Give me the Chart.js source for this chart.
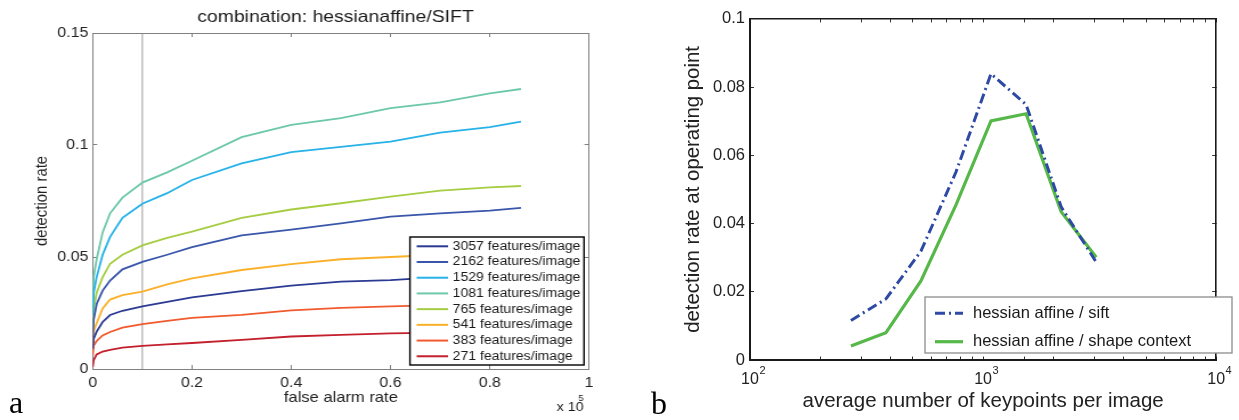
<!DOCTYPE html>
<html><head><meta charset="utf-8">
<script src="https://cdn.jsdelivr.net/npm/chart.js@4.4.1/dist/chart.umd.min.js"></script>
<style>
html,body{margin:0;padding:0;background:#fff;width:1239px;height:420px;overflow:hidden;}
#left{position:absolute;left:0;top:0;width:544px;height:420px;transform:scaleX(1.14);transform-origin:0 0;}
#right{position:absolute;left:640px;top:0;width:599px;height:420px;}
.lab{position:absolute;font-family:'Liberation Serif','Times New Roman',serif;font-size:32px;line-height:32px;color:#000;}
</style></head>
<body>
<div id="left"><canvas id="c1" width="544" height="420"></canvas></div>
<div id="right"><canvas id="c2" width="599" height="420"></canvas></div>
<div class="lab" style="left:9px;top:386px">a</div>
<div class="lab" style="left:651px;top:387px">b</div>
<script>
// ---------- left chart data ----------
const falseAlarmRate = [0, 0.002, 0.008, 0.02, 0.035, 0.06, 0.1, 0.15, 0.2, 0.3, 0.4, 0.5, 0.6, 0.7, 0.8, 0.863];
const det3057 = [0.009, 0.0135, 0.0167, 0.021, 0.0241, 0.026, 0.028, 0.030, 0.032, 0.0348, 0.0372, 0.039, 0.0397, 0.041, 0.0415, 0.042];
const det2162 = [0.014, 0.022, 0.029, 0.035, 0.0395, 0.0445, 0.0478, 0.051, 0.0544, 0.0597, 0.0622, 0.065, 0.068, 0.0695, 0.0707, 0.0719];
const det1529 = [0.024, 0.034, 0.041, 0.051, 0.059, 0.0675, 0.0738, 0.0785, 0.0844, 0.0918, 0.0968, 0.0992, 0.1015, 0.1055, 0.108, 0.1104];
const det1081 = [0.028, 0.041, 0.049, 0.061, 0.0695, 0.0765, 0.0832, 0.0878, 0.0930, 0.1035, 0.109, 0.112, 0.1165, 0.119, 0.123, 0.125];
const det765  = [0.018, 0.027, 0.034, 0.041, 0.047, 0.051, 0.0552, 0.0585, 0.0613, 0.0675, 0.0712, 0.074, 0.077, 0.0796, 0.0811, 0.0817];
const det541  = [0.011, 0.017, 0.0204, 0.027, 0.031, 0.033, 0.0345, 0.0378, 0.0405, 0.0442, 0.0468, 0.049, 0.050, 0.051, 0.052, 0.0525];
const det383  = [0.006, 0.0105, 0.0125, 0.015, 0.0165, 0.0185, 0.020, 0.0215, 0.0228, 0.0242, 0.0262, 0.0273, 0.028, 0.0285, 0.029, 0.0293];
const det271  = [0.001, 0.004, 0.0065, 0.0078, 0.0085, 0.0095, 0.0103, 0.011, 0.0116, 0.013, 0.0145, 0.0152, 0.0159, 0.0162, 0.0165, 0.0167];
const leftLabels = ['3057 features/image','2162 features/image','1529 features/image','1081 features/image','765 features/image','541 features/image','383 features/image','271 features/image'];
const operatingPoint = 0.1;
const farTicks = [0, 0.2, 0.4, 0.6, 0.8, 1];
const farTickLabels = ['0','0.2','0.4','0.6','0.8','1'];
const detTicks = [0, 0.05, 0.1, 0.15];
const detTickLabels = ['0','0.05','0.1','0.15'];

// ---------- right chart data ----------
const keypoints = [271, 383, 541, 765, 1081, 1529, 2162, 3057];
const siftRate  = [0.0116, 0.0179, 0.0319, 0.0551, 0.0839, 0.0749, 0.0449, 0.0287];
const shapeRate = [0.0041, 0.0080, 0.0232, 0.0455, 0.0701, 0.0722, 0.0435, 0.0301];
const rightLabels = ['hessian affine / sift', 'hessian affine / shape context'];
const kpTicks = [100, 1000, 10000];
const kpTickBase = ['10', '10', '10'];
const kpTickExp = ['2', '3', '4'];
const opTicks = [0, 0.02, 0.04, 0.06, 0.08, 0.1];
const opTickLabels = ['0','0.02','0.04','0.06','0.08','0.1'];

// ---------- styles ----------
const sans = "'Liberation Sans', Arial, Helvetica, sans-serif";
const leftColors = ['#2b3a92','#3a56aa','#27b2e8','#6cc8a8','#a6cd42','#fbb02a','#f05a2e','#c31f2c'];

const leftSeries = [det3057, det2162, det1529, det1081, det765, det541, det383, det271];
const leftDatasets = leftSeries.map((vals, i) => ({
  label: leftLabels[i],
  data: falseAlarmRate.map((x, j) => ({x: x, y: vals[j]})),
  borderColor: leftColors[i], borderWidth: 1.8, pointRadius: 0, tension: 0, fill: false
}));
leftDatasets.push({
  label: '_op',
  data: [{x: operatingPoint, y: detTicks[0]}, {x: operatingPoint, y: detTicks[detTicks.length-1]}],
  borderColor: '#8a8a8a', borderWidth: 0.85, pointRadius: 0, fill: false
});

const leftDecor = {
  id: 'leftDecor',
  afterDraw(chart) {
    const ctx = chart.ctx;
    ctx.save();
    ctx.fillStyle = '#1a1a1a';
    ctx.font = `17px ${sans}`;
    ctx.textAlign = 'center';
    ctx.textBaseline = 'alphabetic';
    ctx.fillText('combination: hessianaffine/SIFT', 294.3, 21.7);
    ctx.textAlign = 'left';
    ctx.font = `12.5px ${sans}`;
    ctx.fillText('x 10', 488.3, 410.5);
    ctx.font = `8.5px ${sans}`;
    ctx.fillText('5', 507.3, 400.5);
    const x0 = 359.6, y0 = 237, w = 152.7, h = 128;
    ctx.fillStyle = '#fff';
    ctx.fillRect(x0, y0, w, h);
    ctx.strokeStyle = '#000';
    ctx.lineWidth = 1.4;
    ctx.strokeRect(x0, y0, w, h);
    ctx.font = `12.3px ${sans}`;
    ctx.textBaseline = 'middle';
    let row = 0;
    chart.data.datasets.forEach(ds => {
      if (ds.label.startsWith('_')) return;
      const cy = 246.3 + row * 15.71;
      ctx.strokeStyle = ds.borderColor;
      ctx.lineWidth = 2;
      ctx.beginPath(); ctx.moveTo(365.5, cy); ctx.lineTo(393, cy); ctx.stroke();
      ctx.fillStyle = '#1a1a1a';
      ctx.fillText(ds.label, 397.1, cy);
      row++;
    });
    ctx.restore();
  }
};

const gray = '#808080';
const txt = '#222';
new Chart(document.getElementById('c1'), {
  type: 'line',
  data: {datasets: leftDatasets},
  options: {
    responsive: false, animation: false, devicePixelRatio: 1,
    layout: {padding: {left: 0, top: 33, right: 27.3, bottom: 0}},
    plugins: {legend: {display: false}, tooltip: {enabled: false}, title: {display: false}},
    scales: {
      x: {
        type: 'linear', position: 'bottom', min: 0, max: 1,
        afterBuildTicks: s => { s.ticks = farTicks.map(v => ({value: v})); },
        afterFit: s => { s.height = 51; },
        ticks: {callback: (v, i) => farTickLabels[i], font: {family: sans, size: 14}, color: txt, padding: 9.8, maxRotation: 0, autoSkip: false},
        grid: {display: true, drawOnChartArea: false, drawTicks: true, tickLength: -4, color: gray},
        border: {display: true, color: gray, width: 1},
        title: {display: true, text: 'false alarm rate', font: {family: sans, size: 14.5}, color: txt, padding: {top: 0, bottom: 13.1}}
      },
      x2: {
        type: 'linear', position: 'top', min: 0, max: 1,
        afterBuildTicks: s => { s.ticks = farTicks.map(v => ({value: v})); },
        afterFit: s => { s.height = 0; },
        ticks: {display: false},
        grid: {display: true, drawOnChartArea: false, drawTicks: true, tickLength: -4, color: gray},
        border: {display: true, color: gray, width: 1}
      },
      y: {
        type: 'linear', position: 'left', min: 0, max: 0.15,
        afterBuildTicks: s => { s.ticks = detTicks.map(v => ({value: v})); },
        afterFit: s => { s.width = 81.3; },
        ticks: {callback: (v, i) => detTickLabels[i], font: {family: sans, size: 14}, color: txt, padding: 7.8, autoSkip: false},
        grid: {display: true, drawOnChartArea: false, drawTicks: true, tickLength: -4, color: gray},
        border: {display: true, color: gray, width: 1},
        title: {display: true, text: 'detection rate', font: {family: sans, size: 14.9}, color: txt, padding: {top: 28.1, bottom: 0}}
      },
      y2: {
        type: 'linear', position: 'right', min: 0, max: 0.15,
        afterBuildTicks: s => { s.ticks = detTicks.map(v => ({value: v})); },
        afterFit: s => { s.width = 0; },
        ticks: {display: false},
        grid: {display: true, drawOnChartArea: false, drawTicks: true, tickLength: -4, color: gray},
        border: {display: true, color: gray, width: 1}
      }
    }
  },
  plugins: [leftDecor]
});

// ---------- right chart ----------
const rightColors = ['#2f4aa5', '#55b848'];
const rightDatasets = [
  {label: rightLabels[0], data: keypoints.map((k, i) => ({x: k, y: siftRate[i]})),
   borderColor: rightColors[0], borderWidth: 3, borderDash: [10, 4, 2, 4], pointRadius: 0, tension: 0, fill: false},
  {label: rightLabels[1], data: keypoints.map((k, i) => ({x: k, y: shapeRate[i]})),
   borderColor: rightColors[1], borderWidth: 3.2, pointRadius: 0, tension: 0, fill: false}
];

const tickFont = 16;
const rightDecor = {
  id: 'rightDecor',
  afterDraw(chart) {
    const ctx = chart.ctx;
    ctx.save();
    // exponents of the log tick labels
    const xs = chart.scales.x;
    ctx.fillStyle = txt;
    ctx.font = `${tickFont}px ${sans}`;
    const baseW = ctx.measureText('10').width;
    ctx.font = `11px ${sans}`;
    ctx.textAlign = 'left';
    ctx.textBaseline = 'alphabetic';
    kpTicks.forEach((v, i) => {
      ctx.fillText(kpTickExp[i], xs.getPixelForValue(v) + baseW / 2 + 0.5, 374);
    });
    // legend
    const x0 = 285, y0 = 297, w = 307, h = 56;
    ctx.fillStyle = '#fff';
    ctx.fillRect(x0, y0, w, h);
    ctx.strokeStyle = '#8c8c8c';
    ctx.lineWidth = 1.3;
    ctx.strokeRect(x0, y0, w, h);
    ctx.font = `16.5px ${sans}`;
    ctx.textBaseline = 'middle';
    const rows = [313.3, 341.7];
    chart.data.datasets.forEach((ds, i) => {
      ctx.strokeStyle = ds.borderColor;
      ctx.lineWidth = ds.borderWidth;
      ctx.setLineDash(ds.borderDash || []);
      ctx.beginPath(); ctx.moveTo(295, rows[i]); ctx.lineTo(323, rows[i]); ctx.stroke();
      ctx.setLineDash([]);
      ctx.fillStyle = '#1a1a1a';
      ctx.fillText(ds.label, 333, rows[i]);
    });
    ctx.restore();
  }
};

const dark = '#1a1a1a';
new Chart(document.getElementById('c2'), {
  type: 'line',
  data: {datasets: rightDatasets},
  options: {
    responsive: false, animation: false, devicePixelRatio: 1,
    layout: {padding: {left: 0, top: 15, right: 18, bottom: 0}},
    plugins: {legend: {display: false}, tooltip: {enabled: false}, title: {display: false}},
    scales: {
      x: {
        type: 'logarithmic', position: 'bottom', min: 100, max: 10000,
        afterFit: s => { s.height = 60; },
        ticks: {callback: v => { const i = kpTicks.indexOf(v); return i >= 0 ? kpTickBase[i] : ''; },
                font: {family: sans, size: tickFont}, color: txt, padding: 13.9, maxRotation: 0, autoSkip: false},
        grid: {display: true, drawOnChartArea: false, drawTicks: true, tickLength: -3.5, color: '#333'},
        border: {display: true, color: dark, width: 2},
        title: {display: true, text: 'average number of keypoints per image', font: {family: sans, size: 20.5}, color: txt, padding: {top: 0, bottom: 6.3}}
      },
      x2: {
        type: 'logarithmic', position: 'top', min: 100, max: 10000,
        afterFit: s => { s.height = 0; },
        ticks: {display: false, autoSkip: false},
        grid: {display: true, drawOnChartArea: false, drawTicks: true, tickLength: -3.5, color: '#333'},
        border: {display: true, color: dark, width: 1.6}
      },
      y: {
        type: 'linear', position: 'left', min: 0, max: 0.1,
        afterBuildTicks: s => { s.ticks = opTicks.map(v => ({value: v})); },
        afterFit: s => { s.width = 110; },
        ticks: {callback: (v, i) => opTickLabels[i], font: {family: sans, size: 16.5}, color: txt, padding: 9, autoSkip: false},
        grid: {display: true, drawOnChartArea: false, drawTicks: true, tickLength: -4, color: '#333'},
        border: {display: true, color: dark, width: 2},
        title: {display: true, text: 'detection rate at operating point', font: {family: sans, size: 20.4}, color: txt, padding: {top: 41, bottom: 0}}
      },
      y2: {
        type: 'linear', position: 'right', min: 0, max: 0.1,
        afterBuildTicks: s => { s.ticks = opTicks.map(v => ({value: v})); },
        afterFit: s => { s.width = 0; },
        ticks: {display: false},
        grid: {display: true, drawOnChartArea: false, drawTicks: true, tickLength: -4, color: '#333'},
        border: {display: true, color: dark, width: 1.6}
      }
    }
  },
  plugins: [rightDecor]
});
</script>
</body></html>
